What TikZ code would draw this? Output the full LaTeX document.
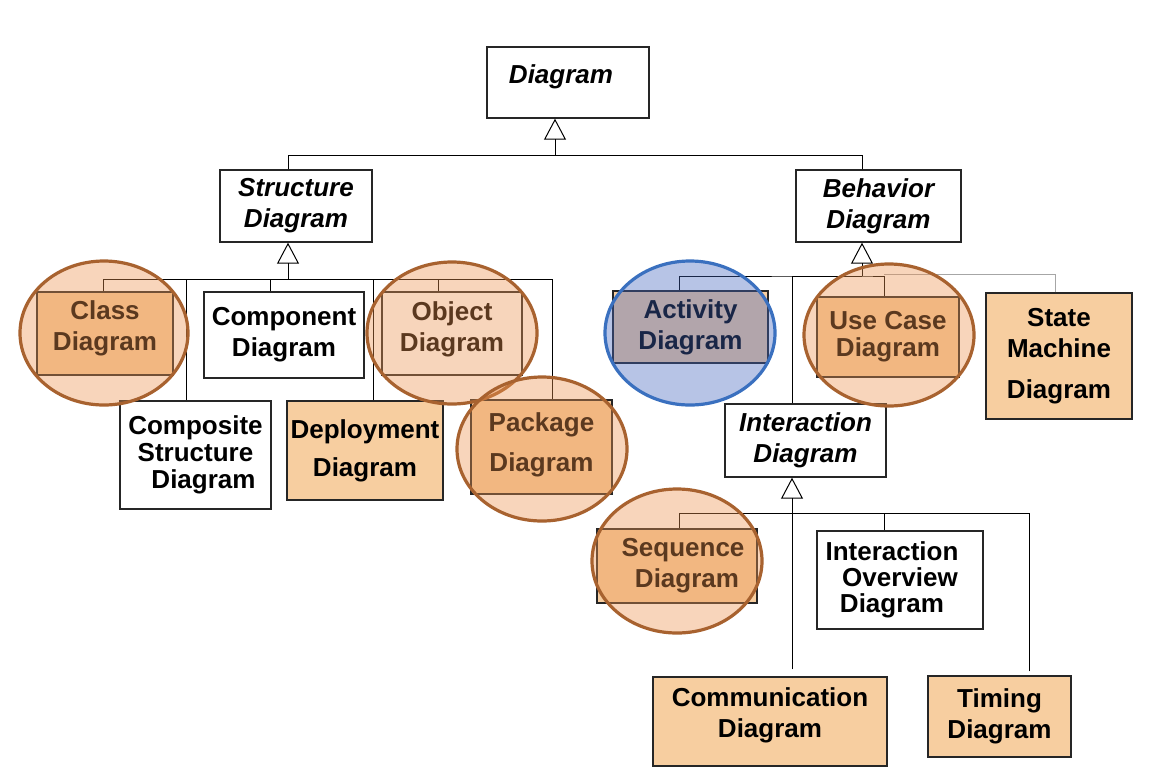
\documentclass[tikz,border=0pt]{standalone}
\usepackage{fontspec}
\setmainfont{Liberation Sans}
\usetikzlibrary{arrows.meta}
\definecolor{boxtan}{RGB}{247,206,160}
\definecolor{overorange}{RGB}{236,147,81}
\definecolor{overblue}{RGB}{66,100,189}
\definecolor{ringbrown}{RGB}{168,98,47}
\definecolor{ringblue}{RGB}{58,112,191}

\begin{document}
\begin{tikzpicture}[x=0.5pt, y=-0.5pt,
  diabox/.style={draw=black!85, line width=0.7pt, inner sep=0pt, align=center, fill=white,
    font=\bfseries\fontsize{13}{15.5}\selectfont},
  abstract/.style={diabox, font=\bfseries\itshape\fontsize{13}{15.5}\selectfont},
  tanbox/.style={diabox, fill=boxtan},
  gen/.style={-{Triangle[open, length=10.5pt, width=11pt]}, line width=0.5pt},
  link/.style={line width=0.5pt},
  orangering/.style={draw=ringbrown, line width=1.6pt, fill=overorange, fill opacity=0.39},
  bluering/.style={draw=ringblue, line width=1.6pt, fill=overblue, fill opacity=0.38}]

\useasboundingbox (0,0) rectangle (1156,778);

% abstract diagrams
\node[abstract, minimum width=81pt, minimum height=35.5pt, text depth=8pt] (diag) at (568,82.5) {Diagram\hspace*{7pt}};
\node[abstract, minimum width=76pt, minimum height=36pt] (struct) at (296,206) {Structure\\Diagram};
\node[abstract, minimum width=82.5pt, minimum height=36pt] (behav) at (878.5,206) {Behavior\\Diagram};
\node[abstract, minimum width=80.5pt, minimum height=36.5pt] (inter) at (805.5,440.5) {Interaction\\Diagram};

% structure diagrams
\node[tanbox, minimum width=68pt, minimum height=41.5pt, text depth=8pt] (class) at (105,333.5) {Class\\Diagram};
\node[diabox, minimum width=80pt, minimum height=43pt] (comp) at (284,335) {Component\\Diagram};
\node[diabox, minimum width=70pt, minimum height=41.5pt, text depth=7pt] (object) at (452,333.5) {Object\\Diagram};
\node[diabox, minimum width=75.5pt, minimum height=54pt] (compo) at (195.5,455) {Composite\\[-2pt]Structure\\[-2pt]\hspace*{8pt}Diagram};
\node[tanbox, minimum width=78pt, minimum height=49.5pt] (deploy) at (365,450.5) {Deployment\\[3.5pt]Diagram};
\node[tanbox, minimum width=70.5pt, minimum height=47pt, text depth=5pt] (package) at (541.5,447) {Package\\[4.5pt]Diagram};

% behavior diagrams
\node[tanbox, minimum width=77.5pt, minimum height=36pt] (activity) at (690.5,327) {Activity\\Diagram};
\node[tanbox, minimum width=71pt, minimum height=40pt] (usecase) at (888,337) {Use Case\\[-2pt]Diagram};
\node[tanbox, minimum width=73pt, minimum height=63pt] (state) at (1059,356) {State\\Machine\\[5pt]Diagram};

% interaction diagrams
\node[tanbox, minimum width=80pt, minimum height=37pt] (seq) at (677,566) {\hspace{6pt}Sequence\\\hspace{10pt}Diagram};
\node[diabox, minimum width=83pt, minimum height=49pt] (io) at (900,580) {Interaction\hspace*{8pt}\\[-2.5pt]Overview\hspace*{8pt}\\[-2.5pt]Diagram\hspace*{8pt}};
\node[tanbox, minimum width=117pt, minimum height=44.5pt, text depth=9pt] (comm) at (770,721.5) {Communication\\Diagram};
\node[tanbox, minimum width=71.5pt, minimum height=40.5pt] (timing) at (999.5,716.5) {Timing\\Diagram};

% generalisation from top
\coordinate (topbus) at (555,155);
\draw[gen] (topbus) -- ([xshift=-6.5pt]diag.south);
\draw[link] ([xshift=-4pt]struct.north) |- (topbus);
\draw[link] ([xshift=-8.25pt]behav.north) |- (topbus);

% structure
\coordinate (sbus) at (288,279);
\draw[gen] (sbus) -- ([xshift=-4pt]struct.south);
\draw[link] ([xshift=-1pt]class.north) |- (sbus) -| ([xshift=5.25pt]package.north);
\draw[link] ([xshift=-4.75pt]compo.north) |- (sbus);
\draw[link] ([xshift=-7pt]comp.north) |- (sbus);
\draw[link] ([xshift=4pt]deploy.north) |- (sbus);
\draw[link] ([xshift=-7pt]object.north) |- (sbus);

% behavior
\coordinate (bbus) at (862,276);
\draw[gen] (bbus) -- ([xshift=-8.25pt]behav.south);
\draw[link] ([xshift=-5.75pt]activity.north) |- (bbus) -| ([xshift=-2pt]usecase.north);
\draw[link] ([xshift=-6.75pt]inter.north) |- (bbus);
\coordinate (sbend) at (884,274);
\draw[link, gray!70] ([xshift=-2pt]state.north) |- (sbend);

% interaction
\coordinate (ibus) at (792,513);
\draw[gen, shorten <=3.5pt] ([xshift=11pt]comm.north) -- ([xshift=-6.75pt]inter.south);
\draw[link] ([xshift=1pt]seq.north) |- (ibus);
\draw[link] ([xshift=-8pt]io.north) |- (ibus);
\draw[link, shorten <=2pt] ([xshift=14.75pt]timing.north) |- (ibus);

% highlight rings
\draw[orangering] (104,333) ellipse [x radius=42pt, y radius=36pt];
\draw[orangering] (452,333) ellipse [x radius=42.5pt, y radius=35.5pt];
\draw[orangering] (542,449) ellipse [x radius=42.5pt, y radius=36pt];
\draw[bluering] (690,333) ellipse [x radius=42.5pt, y radius=36pt];
\draw[orangering] (889,335) ellipse [x radius=42.5pt, y radius=35.5pt];
\draw[orangering] (677,561) ellipse [x radius=42.5pt, y radius=36pt];

\end{tikzpicture}
\end{document}
